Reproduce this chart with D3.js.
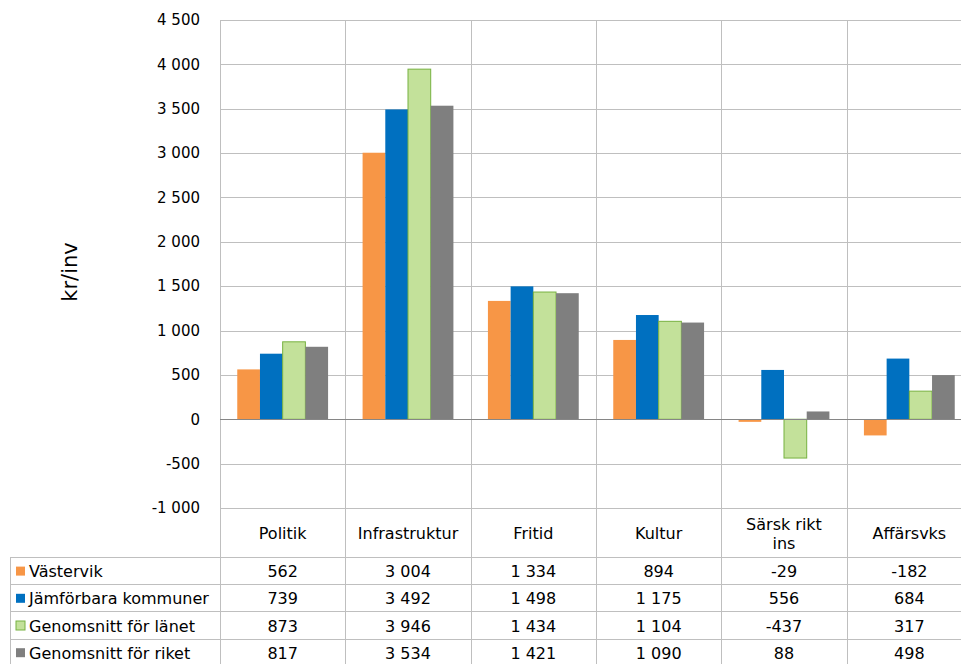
<!DOCTYPE html>
<html>
<head>
<meta charset="utf-8">
<script src="https://cdn.jsdelivr.net/npm/d3@7"></script>
<style>
  body { margin: 0; background: #fff; }
  svg text { font-family: "DejaVu Sans", Verdana, sans-serif; fill: #000; }
</style>
</head>
<body>
<div id="chart"></div>
<script>
// chart values
const categories = ["Politik", "Infrastruktur", "Fritid", "Kultur", "Särsk rikt\nins", "Affärsvks"];
const seriesNames = ["Västervik", "Jämförbara kommuner", "Genomsnitt för länet", "Genomsnitt för riket"];
const vastervik = [562, 3004, 1334, 894, -29, -182];
const jamforbara = [739, 3492, 1498, 1175, 556, 684];
const lanet = [873, 3946, 1434, 1104, -437, 317];
const riket = [817, 3534, 1421, 1090, 88, 498];
const yTicks = [-1000, -500, 0, 500, 1000, 1500, 2000, 2500, 3000, 3500, 4000, 4500];

const seriesValues = [vastervik, jamforbara, lanet, riket];
const fills = ["#F79646", "#0070C0", "#C3E19A", "#7F7F7F"];
const strokes = ["none", "none", "#77B140", "none"];

const W = 961, H = 664;
const plotLeft = 220, plotRight = 972, plotTop = 20, plotBottom = 508;
const tableTop = 557, rowH = 27.2, legendLeft = 10;

const svg = d3.select("#chart").append("svg")
  .attr("width", W)
  .attr("height", H);

const x = d3.scaleBand().domain(d3.range(categories.length)).range([plotLeft, plotRight]);
const xs = d3.scaleBand().domain(d3.range(seriesNames.length))
  .range([0, x.bandwidth()]).paddingOuter(0.76).paddingInner(0);
const y = d3.scaleLinear().domain([-1000, 4500]).range([plotBottom, plotTop]);

const fmt = v => d3.format(",")(v).replace(/,/g, " ").replace("−", "-");

const grid = "#BFBFBF";

// horizontal gridlines
svg.append("g").selectAll("line").data(yTicks).join("line")
  .attr("x1", plotLeft).attr("x2", plotRight)
  .attr("y1", d => Math.round(y(d)) + 0.5).attr("y2", d => Math.round(y(d)) + 0.5)
  .attr("stroke", grid).attr("stroke-width", 1);

// vertical lines through plot and table
const vlines = d3.range(categories.length + 1).map(i => i === categories.length ? plotRight : x(i));
svg.append("g").selectAll("line").data(vlines).join("line")
  .attr("x1", d => Math.round(d) + 0.5).attr("x2", d => Math.round(d) + 0.5)
  .attr("y1", plotTop).attr("y2", H)
  .attr("stroke", grid).attr("stroke-width", 1);

// table horizontal lines
d3.range(seriesNames.length + 1).forEach(i => {
  const yy = Math.round(tableTop + i * rowH);
  svg.append("line")
    .attr("x1", legendLeft).attr("x2", plotRight)
    .attr("y1", yy + 0.5).attr("y2", yy + 0.5)
    .attr("stroke", grid);
});
svg.append("line")
  .attr("x1", legendLeft + 0.5).attr("x2", legendLeft + 0.5)
  .attr("y1", tableTop).attr("y2", H)
  .attr("stroke", grid);

// bars
seriesValues.forEach((vals, si) => {
  svg.append("g").selectAll("rect").data(vals).join("rect")
    .attr("x", (d, i) => x(i) + xs(si))
    .attr("width", xs.bandwidth())
    .attr("y", d => y(Math.max(0, d)))
    .attr("height", d => Math.abs(y(d) - y(0)))
    .attr("fill", fills[si])
    .attr("stroke", strokes[si])
    .attr("stroke-width", 1);
});

// zero line
svg.append("line")
  .attr("x1", plotLeft).attr("x2", plotRight)
  .attr("y1", Math.round(y(0)) + 0.5).attr("y2", Math.round(y(0)) + 0.5)
  .attr("stroke", "#868686");

// y tick labels
svg.append("g").selectAll("text").data(yTicks).join("text")
  .attr("x", 200).attr("y", d => y(d))
  .attr("dy", "0.35em")
  .attr("text-anchor", "end")
  .style("font-size", "15px")
  .text(d => fmt(d));

// y axis title
svg.append("text")
  .attr("transform", "translate(77," + ((plotTop + plotBottom) / 2 + 8) + ") rotate(-90)")
  .attr("text-anchor", "middle")
  .style("font-size", "21px")
  .text("kr/inv");

// category labels
categories.forEach((c, i) => {
  const lines = c.split("\n");
  const cx = x(i) + x.bandwidth() / 2;
  const cy = (plotBottom + tableTop) / 2 + 1;
  const t = svg.append("text")
    .attr("x", cx)
    .attr("text-anchor", "middle")
    .style("font-size", "16px");
  lines.forEach((l, li) => {
    t.append("tspan")
      .attr("x", cx)
      .attr("y", cy + (li - (lines.length - 1) / 2) * 19)
      .attr("dy", "0.35em")
      .text(l);
  });
});

// table rows
seriesNames.forEach((name, si) => {
  const cy = tableTop + si * rowH + rowH / 2 + 1;
  svg.append("rect")
    .attr("x", 16).attr("y", cy - 5)
    .attr("width", 9).attr("height", 9)
    .attr("fill", fills[si])
    .attr("stroke", strokes[si]);
  svg.append("text")
    .attr("x", 29).attr("y", cy)
    .attr("dy", "0.35em")
    .style("font-size", "16px")
    .text(name);
  svg.append("g").selectAll("text").data(seriesValues[si]).join("text")
    .attr("x", (d, i) => x(i) + x.bandwidth() / 2)
    .attr("y", cy)
    .attr("dy", "0.35em")
    .attr("text-anchor", "middle")
    .style("font-size", "16px")
    .text(d => fmt(d));
});
</script>
</body>
</html>
